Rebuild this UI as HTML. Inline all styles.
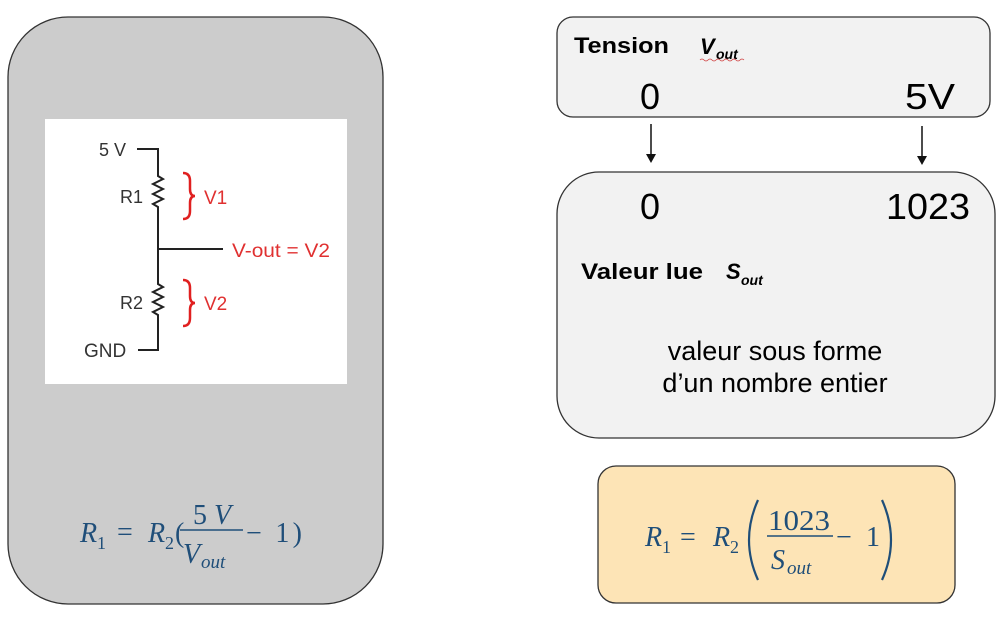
<!DOCTYPE html>
<html><head><meta charset="utf-8"><style>
html,body{margin:0;padding:0;background:#fff;width:1006px;height:621px;overflow:hidden}
svg{display:block}
.m{font-family:"Liberation Serif",serif;font-style:italic;fill:#1f4e79}
.mn{font-family:"Liberation Serif",serif;fill:#1f4e79}
.s{font-family:"Liberation Sans",sans-serif}
</style></head><body>
<svg width="1006" height="621" viewBox="0 0 1006 621" xmlns="http://www.w3.org/2000/svg">
<!-- left box -->
<rect x="8" y="17" width="375" height="587" rx="60" fill="#cccccc" stroke="#333" stroke-width="1.3"/>
<rect x="45" y="119" width="302" height="265" fill="#fff"/>
<g stroke="#222" stroke-width="2" fill="none">
<path d="M137 149 H158 V176 l5 3 l-10 5 l10 5 l-10 5 l10 5 l-10 5 l5 3 V250 V284 l5 3 l-10 5 l10 5 l-10 5 l10 5 l-10 5 l5 3 V350 H138"/>
<path d="M158 249 H223"/>
</g>
<g class="s" font-size="18" fill="#333">
<text x="99" y="156">5 V</text>
<text x="120" y="203">R1</text>
<text x="120" y="309">R2</text>
<text x="84" y="357" font-size="19">GND</text>
</g>
<g stroke="#e02020" stroke-width="2.5" fill="none">
<path d="M183 173 q7 0 7 8 v8 q0 7 5 7 q-5 0 -5 7 v8 q0 8 -7 8"/>
<path d="M183 280 q7 0 7 8 v8 q0 7 5 7 q-5 0 -5 7 v8 q0 8 -7 8"/>
</g>
<g class="s" font-size="19" fill="#e03030">
<text x="204" y="204">V1</text>
<text x="204" y="310">V2</text>
<text x="232" y="257" textLength="98" lengthAdjust="spacingAndGlyphs">V-out = V2</text>
</g>
<!-- left formula -->
<text class="m" x="80" y="542" font-size="28">R</text><text class="mn" x="97" y="549" font-size="18">1</text>
<text class="mn" x="117" y="541" font-size="28">=</text>
<text class="m" x="148" y="542" font-size="28">R</text><text class="mn" x="165" y="549" font-size="18">2</text>
<text class="mn" x="175" y="542" font-size="28">(</text>
<text class="mn" x="193" y="524" font-size="28">5 <tspan font-style="italic">V</tspan></text>
<line x1="180" y1="530" x2="243" y2="530" stroke="#1f4e79" stroke-width="1.5"/>
<text class="m" x="183" y="563" font-size="28">V</text><text class="m" x="201" y="568" font-size="19">out</text>
<text class="mn" x="246" y="542" font-size="28" textLength="56" lengthAdjust="spacing">− 1)</text>
<!-- right top box -->
<rect x="557" y="17" width="433" height="100" rx="16" fill="#f2f2f2" stroke="#333" stroke-width="1.3"/>
<text class="s" x="574" y="53" font-size="22" font-weight="bold" textLength="95" lengthAdjust="spacingAndGlyphs">Tension</text>
<text class="s" x="700" y="54" font-size="22" font-weight="bold" font-style="italic">V</text>
<text class="s" x="716" y="59" font-size="14" font-weight="bold" font-style="italic">out</text>
<path d="M700 60 q2 -2 4 0 t4 0 t4 0 t4 0 t4 0 t4 0 t4 0 t4 0 t4 0 t4 0 t4 0" stroke="#d04040" stroke-width="0.8" fill="none"/>
<text class="s" x="640" y="109" font-size="36">0</text>
<text class="s" x="905" y="109" font-size="36" textLength="50" lengthAdjust="spacingAndGlyphs">5V</text>
<!-- arrows -->
<g stroke="#111" stroke-width="1.5"><line x1="651" y1="124" x2="651" y2="155"/><line x1="922" y1="126" x2="922" y2="157"/></g>
<path d="M646 154 L651 163 L656 154Z M917 156 L922 165 L927 156Z" fill="#111"/>
<!-- middle box -->
<rect x="557" y="172" width="438" height="266" rx="42" fill="#f2f2f2" stroke="#333" stroke-width="1.3"/>
<text class="s" x="640" y="219" font-size="36">0</text>
<text class="s" x="886" y="219" font-size="36" textLength="84" lengthAdjust="spacingAndGlyphs">1023</text>
<text class="s" x="581" y="279" font-size="22" font-weight="bold" textLength="122" lengthAdjust="spacingAndGlyphs">Valeur lue</text>
<text class="s" x="726" y="279" font-size="22" font-weight="bold" font-style="italic">S</text>
<text class="s" x="741" y="285" font-size="14" font-weight="bold" font-style="italic">out</text>
<text class="s" x="775" y="360" font-size="27" text-anchor="middle">valeur sous forme</text>
<text class="s" x="775" y="392" font-size="27" text-anchor="middle">d’un nombre entier</text>
<!-- orange box -->
<rect x="598" y="466" width="357" height="137" rx="18" fill="#fde4b6" stroke="#333" stroke-width="1.3"/>
<text class="m" x="645" y="546" font-size="28">R</text><text class="mn" x="662" y="553" font-size="18">1</text>
<text class="mn" x="680" y="546" font-size="28">=</text>
<text class="m" x="713" y="546" font-size="28">R</text><text class="mn" x="730" y="553" font-size="18">2</text>
<path d="M758 500 q-18 40 0 80" stroke="#1f4e79" stroke-width="2.2" fill="none"/>
<text class="mn" x="768" y="530" font-size="28" textLength="62" lengthAdjust="spacingAndGlyphs">1023</text>
<line x1="767" y1="536" x2="833" y2="536" stroke="#1f4e79" stroke-width="1.5"/>
<text class="m" x="771" y="569" font-size="28">S</text><text class="m" x="787" y="574" font-size="19">out</text>
<text class="mn" x="836" y="546" font-size="28" textLength="44" lengthAdjust="spacing">− 1</text>
<path d="M882 500 q18 40 0 80" stroke="#1f4e79" stroke-width="2.2" fill="none"/>
</svg>
</body></html>
